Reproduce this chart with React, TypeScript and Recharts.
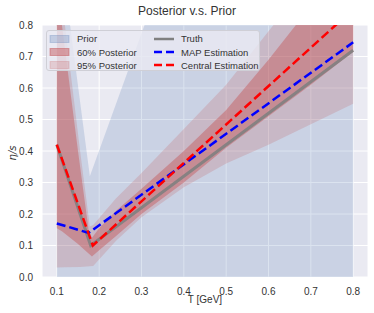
import { ComposedChart, Area, Line, XAxis, YAxis, CartesianGrid, Legend } from "recharts";

const tickT = [0.1, 0.2, 0.3, 0.4, 0.5, 0.6, 0.7, 0.8];
const tickEta = [0, 0.1, 0.2, 0.3, 0.4, 0.5, 0.6, 0.7, 0.8];

// prior: filled from 0 up to a kinked upper curve
const priorT = [0.1, 0.178, 0.8];
const priorLow = [0, 0, 0];
const priorHigh = [1.12, 0.32, 2.63];

// 95% posterior band
const p95T = [0.1, 0.119, 0.155, 0.178, 0.186, 0.24, 0.3, 0.4, 0.5, 0.6, 0.7, 0.8];
const p95Low = [0.03, 0.031, 0.032, 0.034, 0.035, 0.115, 0.19, 0.285, 0.36, 0.42, 0.485, 0.55];
const p95High = [1.1, 0.8, 0.4, 0.16, 0.165, 0.25, 0.33, 0.47, 0.61, 0.78, 0.95, 1.12];

// 60% posterior band
const p60T = [0.1, 0.112, 0.15, 0.175, 0.183, 0.2, 0.24, 0.3, 0.4, 0.5, 0.6, 0.7, 0.8];
const p60Low = [0.155, 0.145, 0.105, 0.075, 0.065, 0.085, 0.13, 0.2, 0.3, 0.41, 0.51, 0.61, 0.715];
const p60High = [1.05, 0.8, 0.4, 0.15, 0.125, 0.155, 0.21, 0.28, 0.4, 0.53, 0.69, 0.86, 1.02];

const truthT = [0.1, 0.18, 0.8];
const truthEta = [0.42, 0.1, 0.72];

const mapT = [0.1, 0.175, 0.8];
const mapEta = [0.17, 0.14, 0.745];

const centralT = [0.1, 0.185, 0.8];
const centralEta = [0.42, 0.1, 0.85];

const band = (t: number[], lo: number[], hi: number[]) =>
  t.map((x, i) => ({ T: x, v: [lo[i], hi[i]] }));
const curve = (t: number[], v: number[]) => t.map((x, i) => ({ T: x, v: v[i] }));

const BLUE = "#4C72B0";
const RED = "#C44E52";
const FONT = "'Liberation Sans', Arial, sans-serif";
const TEXT = "#333333";

const legendItems = [
  { label: "Prior", kind: "patch", color: BLUE, alpha: 0.25 },
  { label: "Truth", kind: "line", color: "#808080", dash: "" },
  { label: "60% Posterior", kind: "patch", color: RED, alpha: 0.45 },
  { label: "MAP Estimation", kind: "line", color: "#0000ff", dash: "8 4" },
  { label: "95% Posterior", kind: "patch", color: RED, alpha: 0.2 },
  { label: "Central Estimation", kind: "line", color: "#ff0000", dash: "8 4" },
];

function LegendBox() {
  return (
    <div
      style={{
        width: 214,
        height: 41,
        boxSizing: "border-box",
        background: "rgba(234,234,242,0.8)",
        border: "1px solid #cfcfd6",
        borderRadius: 3,
        display: "grid",
        gridTemplateColumns: "104px 108px",
        gridAutoRows: "13.4px",
        paddingTop: 1,
        fontFamily: FONT,
        fontSize: 9.5,
        color: TEXT,
      }}
    >
      {legendItems.map((it) => (
        <div key={it.label} style={{ display: "flex", alignItems: "center", whiteSpace: "nowrap" }}>
          <svg width={30} height={10} style={{ flex: "none" }}>
            {it.kind === "patch" ? (
              <rect x={3} y={1.5} width={19} height={7} fill={it.color} fillOpacity={it.alpha}
                stroke={it.color} strokeOpacity={it.alpha} />
            ) : (
              <line x1={3} x2={23} y1={5} y2={5} stroke={it.color} strokeWidth={2.5}
                strokeDasharray={it.dash} />
            )}
          </svg>
          <span>{it.label}</span>
        </div>
      ))}
    </div>
  );
}

export default function App() {
  const tick = { fontSize: 10, fill: TEXT, fontFamily: FONT };
  return (
    <div style={{ position: "absolute", left: 0, top: 0, width: 374, height: 313, background: "#fff" }}>
      <div style={{ position: "absolute", top: 4, width: 374, textAlign: "center", fontFamily: FONT, fontSize: 12, color: TEXT }}>
        Posterior v.s. Prior
      </div>
      <div style={{ position: "absolute", top: 294, left: 105, width: 200, textAlign: "center", fontFamily: FONT, fontSize: 10, color: TEXT }}>
        T [GeV]
      </div>
      <div style={{ position: "absolute", left: 12, top: 153, transform: "translate(-50%, -50%) rotate(-90deg)", fontFamily: "'DejaVu Sans', sans-serif", fontStyle: "italic", fontSize: 10, color: TEXT, whiteSpace: "nowrap" }}>
        η/s
      </div>
      <ComposedChart width={374} height={313} margin={{ top: 25, right: 6, left: 12, bottom: 6 }}>
        <CartesianGrid fill="#EAEAF2" stroke="#ffffff" strokeWidth={1} />
        <XAxis dataKey="T" type="number" domain={[0.065, 0.835]} ticks={tickT} allowDataOverflow
          tickFormatter={(v) => Number(v).toFixed(1)} tick={tick} axisLine={false} tickLine={false}
          tickSize={5} tickMargin={6} height={30} />
        <YAxis type="number" domain={[0, 0.8]} ticks={tickEta} allowDataOverflow
          tickFormatter={(v) => Number(v).toFixed(1)} tick={tick} axisLine={false} tickLine={false}
          tickSize={6} tickMargin={3} width={30} />
        <Area data={band(priorT, priorLow, priorHigh)} dataKey="v" type="linear" fill={BLUE}
          fillOpacity={0.2} stroke="none" isAnimationActive={false} dot={false} activeDot={false} />
        <Area data={band(p60T, p60Low, p60High)} dataKey="v" type="linear" fill={RED}
          fillOpacity={0.42} stroke="none" isAnimationActive={false} dot={false} activeDot={false} />
        <Area data={band(p95T, p95Low, p95High)} dataKey="v" type="linear" fill={RED}
          fillOpacity={0.2} stroke="none" isAnimationActive={false} dot={false} activeDot={false} />
        <Line data={curve(truthT, truthEta)} dataKey="v" type="linear" stroke="#808080"
          strokeOpacity={0.9} strokeWidth={3} dot={false} activeDot={false} isAnimationActive={false} />
        <Line data={curve(mapT, mapEta)} dataKey="v" type="linear" stroke="#0000ff"
          strokeWidth={2.5} strokeDasharray="9 4" dot={false} activeDot={false} isAnimationActive={false} />
        <Line data={curve(centralT, centralEta)} dataKey="v" type="linear" stroke="#ff0000"
          strokeWidth={2.5} strokeDasharray="9 4" dot={false} activeDot={false} isAnimationActive={false} />
        <Legend layout="horizontal" verticalAlign="middle" align="center" content={() => <LegendBox />}
          wrapperStyle={{ left: 46, top: 30, width: 214, height: 41 }} />
      </ComposedChart>
    </div>
  );
}
